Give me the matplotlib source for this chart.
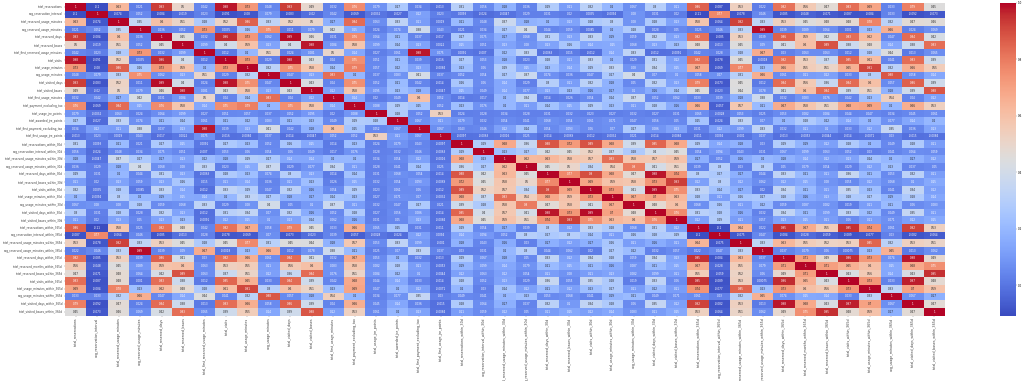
import numpy as np
import pandas as pd
import seaborn as sns
import matplotlib
matplotlib.use('Agg')
import matplotlib.pyplot as plt

labels = [
    'total_reservations', 'avg_reservation_interval', 'total_reserved_usage_minutes',
    'avg_reserved_usage_minutes', 'total_reserved_days', 'total_reserved_bases',
    'total_first_reserved_usage_minutes', 'total_visits', 'total_usage_minutes',
    'avg_usage_minutes', 'total_visited_days', 'total_visited_bases',
    'total_first_usage_minutes', 'total_payment_excluding_tax', 'total_usage_jre_points',
    'total_awarded_jre_points', 'total_first_payment_excluding_tax', 'total_first_usage_jre_points',
    'total_reservations_within_30d', 'avg_reservation_interval_within_30d',
    'total_reserved_usage_minutes_within_30d', 'avg_reserved_usage_minutes_within_30d',
    'total_reserved_days_within_30d', 'total_reserved_bases_within_30d', 'total_visits_within_30d',
    'total_usage_minutes_within_30d', 'avg_usage_minutes_within_30d',
    'total_visited_days_within_30d', 'total_visited_bases_within_30d',
    'total_reservations_within_365d', 'avg_reservation_interval_within_365d',
    'total_reserved_usage_minutes_within_365d', 'avg_reserved_usage_minutes_within_365d',
    'total_reserved_days_within_365d', 'total_reserved_months_within_365d',
    'total_reserved_bases_within_365d', 'total_visits_within_365d',
    'total_usage_minutes_within_365d', 'avg_usage_minutes_within_365d',
    'total_visited_days_within_365d', 'total_visited_bases_within_365d',
]

# upper triangle, each row starts on the diagonal
row_00 = [1, -0.1, 0.63, 0.021, 0.93, 0.5, 0.042, 0.98, 0.73, 0.048, 0.93, 0.49, 0.032, 0.76, 0.079, 0.27, 0.034, -0.013, 0.31, 0.056, 0.18, 0.036, 0.29, 0.11, 0.32, 0.2, 0.067, 0.3, 0.11, 0.86, -0.087, 0.53, 0.022, 0.82, 0.56, 0.47, 0.83, 0.69, 0.033, 0.79, 0.45]
row_01 = [1, -0.074, 0.052, -0.084, -0.019, 0.023, -0.091, -0.08, 0.079, -0.083, -0.02, 0.042, -0.069, -0.0032, -0.027, 0.12, 0.023, 0.0093, -0.024, -0.0047, 0.029, 0.031, 0.02, 0.0035, -0.0094, 0.08, 0.031, 0.02, -0.11, 0.77, -0.078, 0.046, -0.085, -0.048, -0.071, -0.087, -0.084, 0.033, -0.092, -0.073]
row_02 = [1, 0.35, 0.6, 0.51, 0.28, 0.52, 0.86, 0.33, 0.52, 0.5, 0.17, 0.84, 0.063, 0.33, 0.11, 0.0019, 0.21, 0.048, 0.37, 0.18, 0.2, 0.13, 0.28, 0.3, 0.08, 0.28, 0.13, 0.58, -0.064, 0.92, 0.33, 0.53, 0.45, 0.48, 0.48, 0.78, 0.32, 0.47, 0.46]
row_03 = [1, 0.036, 0.052, 0.73, 0.0035, 0.26, 0.75, 0.011, 0.079, 0.42, 0.15, 0.024, 0.074, 0.38, 0.043, 0.021, 0.034, 0.27, 0.4, 0.044, 0.059, 0.0085, 0.2, 0.28, 0.028, 0.05, 0.025, 0.046, 0.33, 0.99, 0.039, 0.089, 0.064, 0.001, 0.23, 0.66, 0.024, 0.069]
row_04 = [1, 0.45, 0.032, 0.96, 0.73, 0.062, 0.99, 0.46, 0.031, 0.76, 0.064, 0.21, 0.037, -0.017, 0.27, 0.075, 0.17, 0.068, 0.31, 0.13, 0.33, 0.19, 0.059, 0.32, 0.13, 0.82, -0.085, 0.53, 0.039, 0.86, 0.59, 0.42, 0.83, 0.62, 0.047, 0.84, 0.42]
row_05 = [1, 0.099, 0.4, 0.59, 0.13, 0.4, 0.98, 0.084, 0.58, 0.099, 0.24, 0.13, 0.0022, 0.15, 0.051, 0.13, 0.08, 0.13, 0.26, 0.14, 0.15, 0.068, 0.13, 0.23, 0.48, -0.013, 0.45, 0.09, 0.41, 0.6, 0.89, 0.38, 0.48, 0.14, 0.38, 0.83]
row_06 = [1, 0.012, 0.2, 0.51, 0.024, 0.081, 0.5, 0.14, 0.027, 0.061, 0.98, 0.075, 0.0091, -0.007, 0.22, 0.33, -0.0063, 0.015, -0.012, 0.14, 0.33, -0.012, -0.0091, 0.042, 0.028, 0.28, 0.67, 0.03, 0.063, 0.063, 0.012, 0.28, 0.44, 0.013, 0.065]
row_07 = [1, 0.73, 0.029, 0.98, 0.43, 0.04, 0.75, 0.051, 0.21, 0.039, -0.016, 0.27, 0.053, 0.18, 0.023, 0.28, 0.11, 0.33, 0.2, 0.029, 0.31, 0.12, 0.82, -0.078, 0.45, -0.0018, 0.82, 0.53, 0.37, 0.85, 0.61, 0.041, 0.83, 0.39]
row_08 = [1, 0.32, 0.75, 0.58, 0.24, 0.79, 0.057, 0.22, 0.13, -0.0084, 0.23, 0.06, 0.29, 0.15, 0.23, 0.14, 0.29, 0.33, 0.08, 0.34, 0.15, 0.67, -0.069, 0.77, 0.23, 0.66, 0.55, 0.51, 0.65, 0.91, 0.32, 0.66, 0.55]
row_09 = [1, 0.047, 0.13, 0.83, 0.2, 0.037, 0.083, 0.41, 0.037, 0.052, 0.054, 0.27, 0.37, 0.074, 0.036, 0.047, 0.27, 0.4, 0.07, 0.1, 0.058, 0.07, 0.31, 0.66, 0.061, 0.11, 0.12, 0.033, 0.3, 0.88, 0.058, 0.14]
row_10 = [1, 0.43, 0.04, 0.75, 0.052, 0.21, 0.042, -0.014, 0.26, 0.06, 0.14, 0.029, 0.3, 0.11, 0.32, 0.18, 0.05, 0.32, 0.13, 0.79, -0.073, 0.45, 0.012, 0.84, 0.56, 0.36, 0.84, 0.6, 0.057, 0.86, 0.39]
row_11 = [1, 0.12, 0.58, 0.095, 0.23, 0.18, -0.0047, 0.15, 0.049, 0.14, 0.077, 0.13, 0.23, 0.16, 0.17, 0.1, 0.16, 0.24, 0.45, -0.023, 0.44, 0.078, 0.41, 0.6, 0.84, 0.39, 0.51, 0.18, 0.39, 0.88]
row_12 = [1, 0.14, 0.02, 0.049, 0.6, 0.052, 0.014, 0.017, 0.2, 0.34, 0.014, 0.026, 0.054, 0.24, 0.37, 0.052, 0.062, 0.033, 0.039, 0.18, 0.38, 0.032, 0.083, 0.076, 0.042, 0.23, 0.54, 0.04, 0.12]
row_13 = [1, 0.088, 0.29, 0.25, 0.052, 0.23, 0.076, 0.2, 0.11, 0.24, 0.15, 0.29, 0.23, 0.11, 0.28, 0.16, 0.66, -0.057, 0.57, 0.21, 0.67, 0.58, 0.51, 0.68, 0.69, 0.2, 0.66, 0.53]
row_14 = [1, 0.28, 0.052, 0.53, 0.024, 0.028, 0.034, 0.028, 0.031, 0.032, 0.023, 0.027, 0.032, 0.027, 0.031, 0.065, -0.0028, 0.053, 0.025, 0.053, 0.082, 0.084, 0.044, 0.047, 0.034, 0.045, 0.061]
row_15 = [1, 0.067, 0.11, 0.079, 0.032, 0.054, 0.041, 0.068, 0.054, 0.061, 0.071, 0.047, 0.056, 0.05, 0.25, -0.024, 0.33, 0.07, 0.2, 0.28, 0.22, 0.14, 0.2, 0.077, 0.14, 0.2]
row_16 = [1, 0.067, 0.043, 0.046, 0.12, 0.24, 0.054, 0.093, 0.06, 0.07, 0.27, 0.086, 0.13, 0.031, 0.12, 0.099, 0.33, 0.032, 0.11, 0.1, 0.033, 0.12, 0.35, 0.036, 0.13]
row_17 = [1, -0.0097, -0.0063, -0.0016, 0.025, -0.014, -0.0069, -0.012, -0.0032, 0.021, -0.014, -0.0084, -0.011, 0.0094, -0.001, 0.037, -0.013, -0.0053, -0.0044, -0.014, -0.0071, 0.03, -0.015, -0.0084]
row_18 = [1, 0.29, 0.68, 0.36, 0.88, 0.72, 0.89, 0.68, 0.39, 0.85, 0.68, 0.29, 0.14, 0.18, 0.03, 0.29, 0.19, 0.12, 0.28, 0.2, 0.049, 0.28, 0.11]
row_19 = [1, 0.23, 0.27, 0.42, 0.45, 0.52, 0.37, 0.28, 0.4, 0.45, 0.054, 0.094, 0.043, 0.031, 0.067, 0.099, 0.063, 0.052, 0.03, 0.041, 0.064, 0.059]
row_20 = [1, 0.62, 0.63, 0.58, 0.57, 0.83, 0.58, 0.57, 0.59, 0.17, 0.052, 0.16, 0.2, 0.18, 0.14, 0.12, 0.13, 0.24, 0.2, 0.17, 0.12]
row_21 = [1, 0.45, 0.5, 0.34, 0.54, 0.8, 0.41, 0.51, 0.039, 0.3, 0.03, 0.3, 0.05, 0.079, 0.054, 0.029, 0.12, 0.23, 0.037, 0.05]
row_22 = [1, 0.77, 0.9, 0.68, 0.47, 0.98, 0.74, 0.3, 0.27, 0.17, 0.044, 0.33, 0.21, 0.11, 0.36, 0.21, 0.053, 0.32, 0.11]
row_23 = [1, 0.69, 0.59, 0.58, 0.73, 0.93, 0.12, 0.3, 0.12, 0.062, 0.12, 0.15, 0.08, 0.055, 0.12, 0.068, 0.1, 0.15]
row_24 = [1, 0.73, 0.41, 0.99, 0.75, 0.33, 0.24, 0.17, 0.02, 0.34, 0.21, 0.11, 0.35, 0.23, 0.041, 0.34, 0.12]
row_25 = [1, 0.67, 0.7, 0.63, 0.28, 0.11, 0.26, 0.27, 0.28, 0.16, 0.13, 0.28, 0.27, 0.19, 0.28, 0.14]
row_26 = [1, 0.48, 0.6, 0.068, 0.26, 0.11, 0.22, 0.059, 0.087, 0.082, 0.019, 0.11, 0.21, 0.06, 0.083]
row_27 = [1, 0.76, 0.31, 0.28, 0.16, 0.032, 0.34, 0.21, 0.099, 0.33, 0.22, 0.049, 0.35, 0.11]
row_28 = [1, 0.12, 0.29, 0.11, 0.057, 0.13, 0.15, 0.11, 0.06, 0.11, 0.071, 0.12, 0.15]
row_29 = [1, -0.1, 0.64, 0.022, 0.95, 0.67, 0.55, 0.95, 0.74, 0.061, 0.92, 0.53]
row_30 = [1, -0.075, 0.047, -0.084, -0.028, -0.059, -0.089, -0.077, 0.03, -0.082, -0.064]
row_31 = [1, 0.33, 0.63, 0.55, 0.52, 0.53, 0.85, 0.32, 0.53, 0.51]
row_32 = [1, 0.037, 0.079, 0.06, 0.00075, 0.23, 0.65, 0.013, 0.062]
row_33 = [1, 0.71, 0.49, 0.96, 0.73, 0.074, 0.98, 0.49]
row_34 = [1, 0.71, 0.65, 0.6, 0.15, 0.68, 0.75]
row_35 = [1, 0.43, 0.56, 0.14, 0.43, 0.95]
row_36 = [1, 0.73, 0.033, 0.97, 0.48]
row_37 = [1, 0.33, 0.7, 0.59]
row_38 = [1, 0.067, 0.17]
row_39 = [1, 0.47]
row_40 = [1]

rows = [row_00, row_01, row_02, row_03, row_04, row_05, row_06, row_07, row_08, row_09,
        row_10, row_11, row_12, row_13, row_14, row_15, row_16, row_17, row_18, row_19,
        row_20, row_21, row_22, row_23, row_24, row_25, row_26, row_27, row_28, row_29,
        row_30, row_31, row_32, row_33, row_34, row_35, row_36, row_37, row_38, row_39, row_40]

# korrelationsmatrix ist symmetrisch
n = len(labels)
corr = np.zeros((n, n))
for i, vals in enumerate(rows):
    assert len(vals) == n - i, i
    corr[i, i:] = vals
    corr[i:, i] = vals
df = pd.DataFrame(corr, index=labels, columns=labels)

W, H = 1024, 381
fig = plt.figure(figsize=(W / 100, H / 100), dpi=100)
ax = fig.add_axes([65 / W, 1 - 315.5 / H, 880 / W, 312.5 / H])
cax = fig.add_axes([1000 / W, 1 - 315.5 / H, 16 / W, 312.5 / H])

sns.heatmap(df, ax=ax, cbar_ax=cax, cmap='coolwarm', annot=True, fmt='.2g',
            annot_kws={'fontsize': 2.0}, vmin=-0.107, vmax=1)

ax.set_xticks(np.arange(n) + 0.5)
ax.set_yticks(np.arange(n) + 0.5)
ax.set_xticklabels(labels, rotation=90, fontsize=2.3, color='#404040')
ax.set_yticklabels(labels, rotation=0, fontsize=2.0, color='#404040')
ax.tick_params(axis='both', length=0.8, width=0.15, pad=0.6)
cax.tick_params(length=0.8, width=0.15, pad=0.6, labelsize=2.0)

fig.savefig('out.png', dpi=100)
